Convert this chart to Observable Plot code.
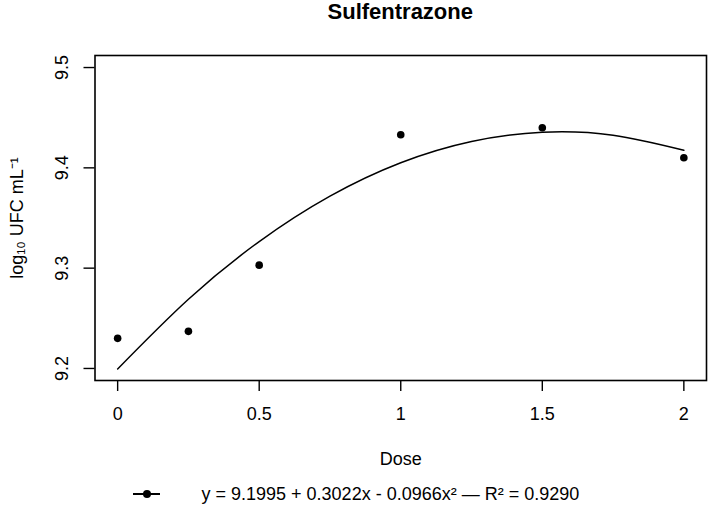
<!DOCTYPE html>
<html>
<head>
<meta charset="utf-8">
<script src="https://cdn.jsdelivr.net/npm/d3@7"></script>
<script src="https://cdn.jsdelivr.net/npm/@observablehq/plot@0.6"></script>
<style>
  html, body { margin: 0; padding: 0; background: #fff; }
  #wrap { position: relative; width: 709px; height: 506px; font-family: "Liberation Sans", Arial, Helvetica, sans-serif; color: #000; }
  #title { position: absolute; left: 94.5px; width: 611.5px; top: 1px; text-align: center; font-weight: bold; font-size: 22px; line-height: 22px; }
  #chart { position: absolute; left: 0; top: 0; }
  #legend { position: absolute; left: 0; top: 482px; width: 709px; height: 24px; font-size: 18px; }
  #legend .line { position: absolute; left: 133px; top: 11px; width: 27px; height: 0; border-top: 2px solid #000; }
  #legend .dot { position: absolute; left: 142.5px; top: 8px; width: 8px; height: 8px; border-radius: 50%; background: #000; }
  #legend .txt { position: absolute; left: 201.5px; top: 0; line-height: 24px; white-space: nowrap; }
</style>
</head>
<body>
<div id="wrap">
  <div id="chart"></div>
  <div id="title">Sulfentrazone</div>
  <div id="legend"><span class="line"></span><span class="dot"></span><span class="txt">y = 9.1995 + 0.3022x - 0.0966x² — R² = 0.9290</span></div>
</div>
<script>
// Observed data
const doses = [0, 0.25, 0.5, 1, 1.5, 2];
const ufc = [9.230, 9.237, 9.303, 9.433, 9.440, 9.410];
// Fitted curve
const fitDose = [0, 0.25, 0.5, 0.75, 1, 1.25, 1.5, 1.75, 2];
const fitUfc = [9.1995, 9.2690, 9.3265, 9.3718, 9.4051, 9.4263, 9.4355, 9.4325, 9.4175];
// Axis ticks
const xTicks = [0, 0.5, 1, 1.5, 2];
const xTickLabels = ["0", "0.5", "1", "1.5", "2"];
const yTicks = [9.2, 9.3, 9.4, 9.5];
const yTickLabels = ["9.2", "9.3", "9.4", "9.5"];
const xLabel = "Dose";
const yLabel = "log₁₀ UFC mL⁻¹";

const points = doses.map((d, i) => ({dose: d, ufc: ufc[i]}));
const fit = fitDose.map((d, i) => ({dose: d, ufc: fitUfc[i]}));

const chart = Plot.plot({
  width: 709,
  height: 470,
  marginLeft: 94.5,
  marginRight: 3,
  marginTop: 55,
  marginBottom: 90,
  style: {fontFamily: '"Liberation Sans", Arial, Helvetica, sans-serif', background: "transparent", color: "#000", overflow: "visible"},
  x: {domain: [-0.08, 2.08]},
  y: {domain: [9.188, 9.512]},
  marks: [
    Plot.axisX(xTicks, {tickSize: 11, tickPadding: 16, strokeWidth: 1.4, fontSize: 18,
      tickFormat: d => xTickLabels[xTicks.indexOf(d)], label: null}),
    Plot.axisY(yTicks, {tickSize: 11, strokeWidth: 1.4, tickFormat: () => "", label: null}),
    Plot.text(yTicks, {y: d => d, text: d => yTickLabels[yTicks.indexOf(d)], frameAnchor: "left",
      rotate: -90, textAnchor: "middle", lineAnchor: "middle", dx: -33, fontSize: 18, fill: "#000"}),
    Plot.line(fit, {x: "dose", y: "ufc", curve: "natural", stroke: "#000", strokeWidth: 1.5}),
    Plot.dot(points, {x: "dose", y: "ufc", r: 3.8, fill: "#000", stroke: "none"}),
    Plot.text([xLabel], {frameAnchor: "bottom", textAnchor: "middle", lineAnchor: "middle", dy: 79, fontSize: 18, fill: "#000"}),
    Plot.text([yLabel], {frameAnchor: "left", rotate: -90, textAnchor: "middle", lineAnchor: "middle", dx: -77.5, fontSize: 18, fill: "#000"}),
    Plot.frame({stroke: "black", strokeWidth: 1.6, fill: "none"})
  ]
});
document.getElementById("chart").appendChild(chart);
</script>
</body>
</html>
